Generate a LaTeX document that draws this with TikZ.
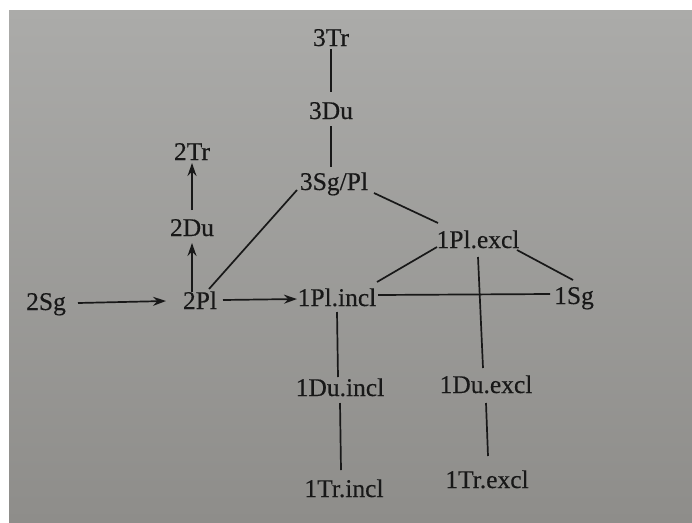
\documentclass[tikz,border=0pt]{standalone}
\usepackage{fontspec}
\setmainfont[FakeBold=0.4]{Liberation Serif}
\usetikzlibrary{arrows.meta}
\definecolor{paperTop}{HTML}{ABABA9}
\definecolor{paperBot}{HTML}{8E8D8A}
\definecolor{ink}{HTML}{181818}
\begin{document}
\begin{tikzpicture}[x=1pt,y=-1pt,
  lbl/.style={anchor=base,inner sep=0pt,text=ink,font=\fontsize{25.5}{26}\selectfont},
  link/.style={draw=ink,line width=1.7pt},
  arr/.style={link,-{Stealth[length=13pt,width=9pt]}}]
  % page and paper
  \useasboundingbox (0,0) rectangle (692,522);
  \fill[white] (0,0) rectangle (692,522);
  \shade[top color=paperTop,bottom color=paperBot] (9,10) rectangle (692,522);

  % labels
  \node[lbl] (tr3) at (331,46) {3Tr};
  \node[lbl] (du3) at (331,119) {3Du};
  \node[lbl] (sgpl3) at (334,190) {3Sg/Pl};
  \node[lbl] (tr2) at (192,160) {2Tr};
  \node[lbl] (du2) at (192,236) {2Du};
  \node[lbl] (sg2) at (46,310) {2Sg};
  \node[lbl] (pl2) at (200,309) {2Pl};
  \node[lbl] (plin) at (337,306) {1Pl.incl};
  \node[lbl] (plex) at (478,248) {1Pl.excl};
  \node[lbl] (sg1) at (574,304) {1Sg};
  \node[lbl] (duin) at (340,396) {1Du.incl};
  \node[lbl] (duex) at (486,393) {1Du.excl};
  \node[lbl] (trin) at (344,497) {1Tr.incl};
  \node[lbl] (trex) at (487,488) {1Tr.excl};

  % plain links
  \draw[link] ([shift={(0,3)}]tr3.base) -- ([shift={(0,-27)}]du3.base);
  \draw[link] ([shift={(0,7)}]du3.base) -- ([shift={(-3,-23)}]sgpl3.base);
  \draw[link] ([shift={(40,3)}]sgpl3.base) -- ([shift={(-40,-25)}]plex.base);
  \draw[link] ([shift={(-37,0)}]sgpl3.base) -- ([shift={(9,-20)}]pl2.base);
  \draw[link] ([shift={(41,-11)}]plin.base) -- ([shift={(-24,-10)}]sg1.base);
  \draw[link] ([shift={(40,-24)}]plin.base) -- ([shift={(-41,-1)}]plex.base);
  \draw[link] ([shift={(39,2)}]plex.base) -- ([shift={(-1,-24)}]sg1.base);
  \draw[link] ([shift={(0,9)}]plex.base) -- ([shift={(-3,-25)}]duex.base);
  \draw[link] ([shift={(0,6)}]plin.base) -- ([shift={(-2,-19)}]duin.base);
  \draw[link] ([shift={(0,7)}]duin.base) -- ([shift={(-3,-27)}]trin.base);
  \draw[link] ([shift={(0,10)}]duex.base) -- ([shift={(1,-32)}]trex.base);

  % arrows
  \draw[arr] ([shift={(-8,-17)}]pl2.base) -- ([shift={(0,7)}]du2.base);
  \draw[arr] ([shift={(0,-26)}]du2.base) -- ([shift={(0,3)}]tr2.base);
  \draw[arr] ([shift={(32,-7)}]sg2.base) -- ([shift={(-34,-8)}]pl2.base);
  \draw[arr] ([shift={(23,-9)}]pl2.base) -- ([shift={(-40,-7)}]plin.base);
\end{tikzpicture}
\end{document}
